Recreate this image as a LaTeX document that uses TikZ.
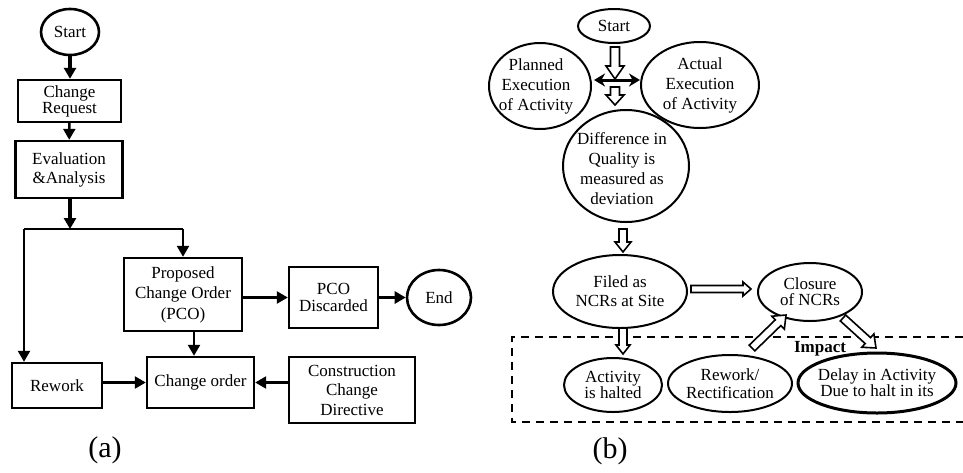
\documentclass[tikz,border=0pt]{standalone}
\usepackage{fontspec}
\setmainfont{Liberation Serif}
\usetikzlibrary{shapes.geometric,arrows.meta,calc}

% Block arrow with a hollow outline: from, to, shaft half-width, head half-width, head length
\newcommand\hollowarrow[5]{%
  \path let \p1=($(#2)-(#1)$) in
    \pgfextra{\pgfmathsetmacro\harrlen{veclen(\x1,\y1)}%
              \pgfmathsetmacro\harrang{atan2(\y1,\x1)}%
              \xdef\harrlen{\harrlen}\xdef\harrang{\harrang}};
  \begin{scope}[shift={(#1)}, rotate=\harrang]
    \draw[hollow] (0pt,-#3pt) -- ({\harrlen pt-#5pt},-#3pt) -- ({\harrlen pt-#5pt},-#4pt)
      -- (\harrlen pt,0pt) -- ({\harrlen pt-#5pt},#4pt) -- ({\harrlen pt-#5pt},#3pt)
      -- (0pt,#3pt) -- cycle;
  \end{scope}}

% Centred lines of text, displaced by (dx, dy) inside their node
\newcommand\offsetlines[3]{%
  \hspace*{#1}\raisebox{#2}[\height][\depth]{\setlength\tabcolsep{0pt}\begin{tabular}{c}#3\end{tabular}}\hspace*{-#1}}

\begin{document}
\begin{tikzpicture}[x=1pt,y=-1pt,
  txt/.style={font=\fontsize{17}{19}\selectfont, align=center},
  box/.style={txt, draw, line width=2.4pt, inner sep=0pt},
  oval/.style={txt, draw, ellipse, line width=2pt, inner sep=-10pt},
  flow/.style={line width=2.4pt, -{Triangle[length=11pt,width=12pt]}},
  hollow/.style={draw, line width=1.6pt, fill=white, line join=miter},
  dashbox/.style={line width=2pt, dash pattern=on 8pt off 6pt},
  caption/.style={font=\fontsize{30}{30}\selectfont}
]
\useasboundingbox (0,0) rectangle (963,472);

% ---------------- (a) change order flow ----------------
\node[oval, line width=2.6pt, inner sep=0pt, minimum width=58, minimum height=46] (s1) at (70,32) {Start};
\node[box, minimum width=103, minimum height=42, font=\fontsize{17}{16}\selectfont] (cr) at (69.5,101) {Change\\Request};
\node[box, minimum width=107, minimum height=57] (ea) at (69,169.5) {Evaluation\\\&Analysis};
\node[box, minimum width=90, minimum height=45] (rw) at (57,385.5) {Rework};
\node[box, minimum width=118, minimum height=73, font=\fontsize{17}{20.5}\selectfont] (pco) at (183,294.5) {Proposed\\Change Order\\(PCO)};
\node[box, minimum width=107, minimum height=51] (co) at (200.5,382.5) {Change order};
\node[box, minimum width=89, minimum height=61, font=\fontsize{17}{17}\selectfont] (pd) at (333.5,297.5) {PCO\\Discarded};
\node[oval, line width=2.6pt, inner sep=0pt, minimum width=64, minimum height=55] (end) at (439,297.5) {End};
\node[box, minimum width=126, minimum height=66, font=\fontsize{17}{19.5}\selectfont] (ccd) at (352,390) {Construction\\Change\\Directive};

\coordinate (split) at (70,229);
\coordinate (splitL) at (24,229);
\coordinate (splitR) at (183,229);
\coordinate (pcx) at (194,0);

\draw[flow, line width=3.4pt] (s1.south) -- (s1.south |- cr.north);
\draw[flow] (cr) -- (ea);
\draw[flow, line width=3.4pt] (ea.south -| split) -- (split);
\draw[line width=2.4pt] (splitL) -- (splitR);
\draw[flow] (splitL) -- (splitL |- rw.north);
\draw[flow] (splitR) -- (pco.north);
\draw[flow] (pco.south -| pcx) -- (co.north -| pcx);
\draw[flow] (pco.east |- pd) -- (pd.west);
\draw[flow, line width=3.4pt] (pd) -- (end);
\draw[flow] (rw.east |- co) -- (co.west);
\draw[flow] (ccd.west |- co) -- (co.east);

\node[caption] (capa) at (105,450) {(a)};

% ---------------- (b) quality deviation flow ----------------
\coordinate (dtr) at (963,337);
\coordinate (dtl) at (512,337);
\coordinate (dbl) at (512,422);
\coordinate (dbr) at (963,422);
\draw[dashbox] (dtr) -- (dtl) -- (dbl) -- (dbr);

\node[oval, minimum width=72, minimum height=34] (s2) at (614,26) {Start};
\node[oval, minimum width=102, minimum height=86, font=\fontsize{17}{20}\selectfont] (pl) at (540,86)
  {\offsetlines{-4pt}{0pt}{Planned\\Execution\\of Activity}};
\node[oval, minimum width=118, minimum height=86, font=\fontsize{17}{20}\selectfont] (ac) at (700,85) {Actual\\Execution\\of Activity};
\node[oval, minimum width=126, minimum height=112, font=\fontsize{17}{20}\selectfont] (df) at (626,166)
  {\offsetlines{-4pt}{-4pt}{Difference in\\Quality is\\measured as\\deviation}};
\node[oval, minimum width=134, minimum height=73] (fl) at (620,291.5) {Filed as\\NCRs at Site};
\node[oval, minimum width=104, minimum height=58, font=\fontsize{17}{16}\selectfont] (cl) at (810,292) {Closure\\of NCRs};
\node[oval, minimum width=98, minimum height=54, font=\fontsize{17}{16}\selectfont] (ah) at (613,385) {Activity\\is halted};
\node[oval, minimum width=124, minimum height=57, font=\fontsize{17}{17.5}\selectfont] (rr) at (730,383.5) {Rework/\\Rectification};
\node[oval, line width=3pt, minimum width=158, minimum height=60, font=\fontsize{17}{16}\selectfont] (dl) at (877,383) {Delay in Activity\\Due to halt in its};
\node[font=\bfseries\fontsize{17}{17}\selectfont] (imp) at (820,349) {Impact};

% arrow end points
\coordinate (a1s) at (615,47);  \coordinate (a1e) at (615,79);
\coordinate (a3s) at (615,87);  \coordinate (a3e) at (615,105);
\coordinate (a4s) at (623,229); \coordinate (a4e) at (623,252);
\coordinate (a5s) at (691,289); \coordinate (a5e) at (751,289);
\coordinate (a6s) at (623,328); \coordinate (a6e) at (623,354);
\coordinate (a7s) at (752,348); \coordinate (a7e) at (786,315);
\coordinate (a8s) at (843,318); \coordinate (a8e) at (876,348);
\coordinate (dbL) at (594,80);  \coordinate (dbR) at (640,80);

\hollowarrow{a1s}{a1e}{4.5}{9}{13}
\draw[line width=3pt, {Stealth[length=11pt,width=13pt]}-{Stealth[length=11pt,width=13pt]}] (dbL) -- (dbR);
\hollowarrow{a3s}{a3e}{4.5}{9}{10}
\hollowarrow{a4s}{a4e}{4}{8}{10}
\hollowarrow{a5s}{a5e}{3.5}{7}{8}
\hollowarrow{a6s}{a6e}{4}{7}{9}
\hollowarrow{a7s}{a7e}{4}{9}{11}
\hollowarrow{a8s}{a8e}{4}{9}{11}

\node[caption] (capb) at (610,451) {(b)};
\end{tikzpicture}
\end{document}
